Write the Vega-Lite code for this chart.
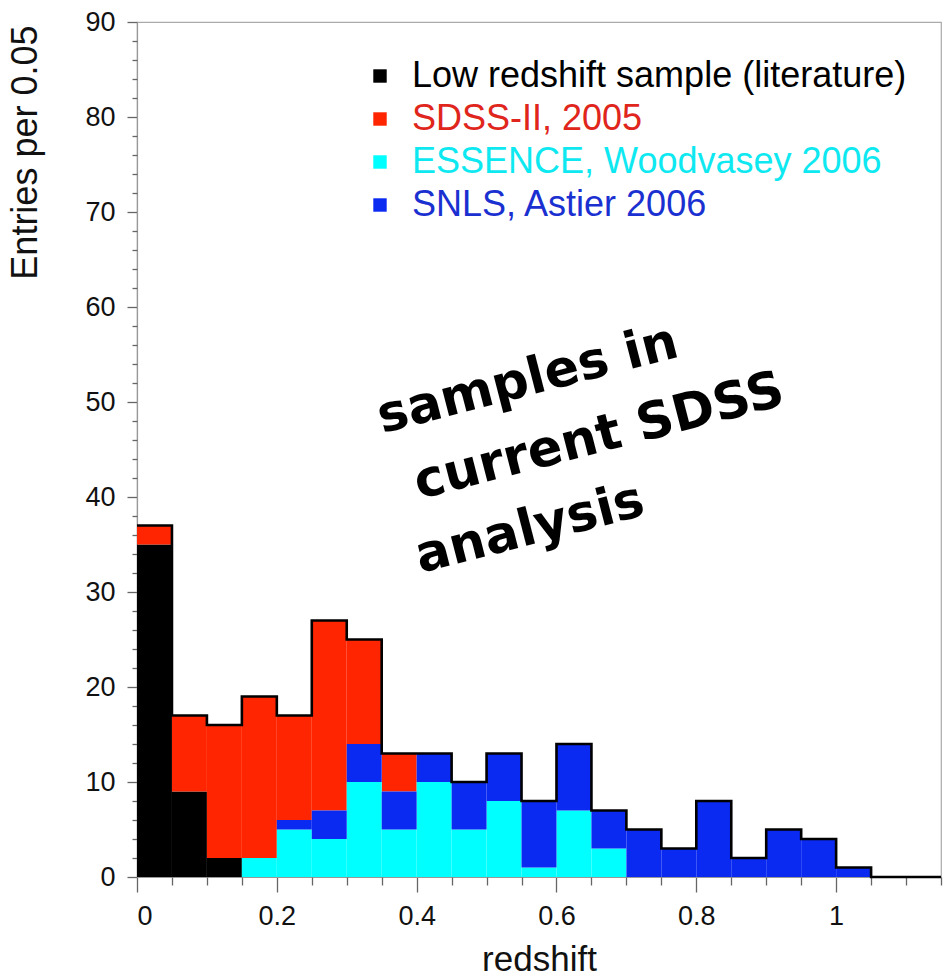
{
  "$schema": "https://vega.github.io/schema/vega-lite/v6.json",
  "width": 804,
  "height": 855,
  "autosize": {"type": "none"},
  "padding": {"left": 137, "top": 22, "right": 8, "bottom": 100},
  "background": "white",
  "config": {
    "view": {"stroke": "#aaaaaa", "strokeWidth": 1.2},
    "axis": {
      "grid": false,
      "domainColor": "#999999",
      "domainWidth": 1.2,
      "tickColor": "#666666",
      "tickWidth": 1.3,
      "labelColor": "#111111",
      "labelFont": "Liberation Sans",
      "titleFont": "Liberation Sans",
      "titleColor": "#111111",
      "titleFontWeight": "normal"
    }
  },
  "datasets": {
    "bars": [
      {"sample": "Low redshift sample (literature)", "lo": 0.0, "hi": 0.05, "count": 35},
      {"sample": "Low redshift sample (literature)", "lo": 0.05, "hi": 0.1, "count": 9},
      {"sample": "Low redshift sample (literature)", "lo": 0.1, "hi": 0.15, "count": 2},
      {"sample": "SDSS-II, 2005", "lo": 0.0, "hi": 0.05, "count": 2},
      {"sample": "SDSS-II, 2005", "lo": 0.05, "hi": 0.1, "count": 8},
      {"sample": "SDSS-II, 2005", "lo": 0.1, "hi": 0.15, "count": 14},
      {"sample": "SDSS-II, 2005", "lo": 0.15, "hi": 0.2, "count": 17},
      {"sample": "SDSS-II, 2005", "lo": 0.2, "hi": 0.25, "count": 11},
      {"sample": "SDSS-II, 2005", "lo": 0.25, "hi": 0.3, "count": 20},
      {"sample": "SDSS-II, 2005", "lo": 0.3, "hi": 0.35, "count": 11},
      {"sample": "SDSS-II, 2005", "lo": 0.35, "hi": 0.4, "count": 4},
      {"sample": "ESSENCE, Woodvasey 2006", "lo": 0.15, "hi": 0.2, "count": 2},
      {"sample": "ESSENCE, Woodvasey 2006", "lo": 0.2, "hi": 0.25, "count": 5},
      {"sample": "ESSENCE, Woodvasey 2006", "lo": 0.25, "hi": 0.3, "count": 4},
      {"sample": "ESSENCE, Woodvasey 2006", "lo": 0.3, "hi": 0.35, "count": 10},
      {"sample": "ESSENCE, Woodvasey 2006", "lo": 0.35, "hi": 0.4, "count": 5},
      {"sample": "ESSENCE, Woodvasey 2006", "lo": 0.4, "hi": 0.45, "count": 10},
      {"sample": "ESSENCE, Woodvasey 2006", "lo": 0.45, "hi": 0.5, "count": 5},
      {"sample": "ESSENCE, Woodvasey 2006", "lo": 0.5, "hi": 0.55, "count": 8},
      {"sample": "ESSENCE, Woodvasey 2006", "lo": 0.55, "hi": 0.6, "count": 1},
      {"sample": "ESSENCE, Woodvasey 2006", "lo": 0.6, "hi": 0.65, "count": 7},
      {"sample": "ESSENCE, Woodvasey 2006", "lo": 0.65, "hi": 0.7, "count": 3},
      {"sample": "SNLS, Astier 2006", "lo": 0.2, "hi": 0.25, "count": 1},
      {"sample": "SNLS, Astier 2006", "lo": 0.25, "hi": 0.3, "count": 3},
      {"sample": "SNLS, Astier 2006", "lo": 0.3, "hi": 0.35, "count": 4},
      {"sample": "SNLS, Astier 2006", "lo": 0.35, "hi": 0.4, "count": 4},
      {"sample": "SNLS, Astier 2006", "lo": 0.4, "hi": 0.45, "count": 3},
      {"sample": "SNLS, Astier 2006", "lo": 0.45, "hi": 0.5, "count": 5},
      {"sample": "SNLS, Astier 2006", "lo": 0.5, "hi": 0.55, "count": 5},
      {"sample": "SNLS, Astier 2006", "lo": 0.55, "hi": 0.6, "count": 7},
      {"sample": "SNLS, Astier 2006", "lo": 0.6, "hi": 0.65, "count": 7},
      {"sample": "SNLS, Astier 2006", "lo": 0.65, "hi": 0.7, "count": 4},
      {"sample": "SNLS, Astier 2006", "lo": 0.7, "hi": 0.75, "count": 5},
      {"sample": "SNLS, Astier 2006", "lo": 0.75, "hi": 0.8, "count": 3},
      {"sample": "SNLS, Astier 2006", "lo": 0.8, "hi": 0.85, "count": 8},
      {"sample": "SNLS, Astier 2006", "lo": 0.85, "hi": 0.9, "count": 2},
      {"sample": "SNLS, Astier 2006", "lo": 0.9, "hi": 0.95, "count": 5},
      {"sample": "SNLS, Astier 2006", "lo": 0.95, "hi": 1.0, "count": 4},
      {"sample": "SNLS, Astier 2006", "lo": 1.0, "hi": 1.05, "count": 1}
    ],
    "envelope": [
      {"z": 0.0, "total": 37},
      {"z": 0.05, "total": 17},
      {"z": 0.1, "total": 16},
      {"z": 0.15, "total": 19},
      {"z": 0.2, "total": 17},
      {"z": 0.25, "total": 27},
      {"z": 0.3, "total": 25},
      {"z": 0.35, "total": 13},
      {"z": 0.4, "total": 13},
      {"z": 0.45, "total": 10},
      {"z": 0.5, "total": 13},
      {"z": 0.55, "total": 8},
      {"z": 0.6, "total": 14},
      {"z": 0.65, "total": 7},
      {"z": 0.7, "total": 5},
      {"z": 0.75, "total": 3},
      {"z": 0.8, "total": 8},
      {"z": 0.85, "total": 2},
      {"z": 0.9, "total": 5},
      {"z": 0.95, "total": 4},
      {"z": 1.0, "total": 1},
      {"z": 1.05, "total": 0},
      {"z": 1.15, "total": 0}
    ]
  },
  "layer": [
    {
      "data": {"name": "bars"},
      "transform": [
        {"calculate": "indexof(['Low redshift sample (literature)', 'ESSENCE, Woodvasey 2006', 'SNLS, Astier 2006', 'SDSS-II, 2005'], datum.sample)", "as": "stack_rank"},
        {"stack": "count", "groupby": ["lo"], "sort": [{"field": "stack_rank", "order": "ascending"}], "as": ["c0", "c1"]}
      ],
      "mark": {"type": "rect", "strokeWidth": 0},
      "encoding": {
        "x": {
          "field": "lo", "type": "quantitative",
          "scale": {"domain": [0, 1.15], "nice": false, "zero": false},
          "axis": {
            "orient": "bottom",
            "values": [0, 0.2, 0.4, 0.6, 0.8, 1],
            "format": "~g",
            "tickSize": 15,
            "labelFontSize": 27,
            "labelPadding": 11,
            "title": "redshift",
            "titleFontSize": 35,
            "titleX": 402,
            "titleY": 93,
            "titleAlign": "center",
            "titleBaseline": "alphabetic"
          }
        },
        "x2": {"field": "hi"},
        "y": {
          "field": "c0", "type": "quantitative",
          "scale": {"domain": [0, 90], "nice": false},
          "axis": {
            "orient": "left",
            "values": [0, 10, 20, 30, 40, 50, 60, 70, 80, 90],
            "tickSize": 10,
            "labelFontSize": 27,
            "labelPadding": 12,
            "title": "Entries per 0.05",
            "titleFontSize": 36,
            "titleAngle": -90,
            "titleX": -101,
            "titleY": 3,
            "titleAlign": "right",
            "titleBaseline": "alphabetic"
          }
        },
        "y2": {"field": "c1"},
        "color": {
          "field": "sample", "type": "nominal",
          "scale": {
            "domain": ["Low redshift sample (literature)", "SDSS-II, 2005", "ESSENCE, Woodvasey 2006", "SNLS, Astier 2006"],
            "range": ["#000000", "#ff2500", "#00ffff", "#0a2af2"]
          },
          "legend": {
            "orient": "none",
            "legendX": 225,
            "legendY": 36,
            "title": null,
            "padding": 0,
            "symbolType": "square",
            "symbolSize": 180,
            "symbolStrokeWidth": 0,
            "labelFontSize": 36,
            "labelFont": "Liberation Sans",
            "labelOffset": 14,
            "labelLimit": 700,
            "rowPadding": 7,
            "encode": {
              "symbols": {
                "update": {
                  "shape": {"value": "square"},
                  "size": {"value": 180},
                  "strokeWidth": {"value": 0}
                }
              },
              "labels": {
                "update": {
                  "fill": {"signal": "datum.value === 'SDSS-II, 2005' ? '#e0261c' : datum.value === 'ESSENCE, Woodvasey 2006' ? '#0ee8f0' : datum.value === 'SNLS, Astier 2006' ? '#1a30d0' : '#000000'"}
                }
              }
            }
          }
        }
      }
    },
    {
      "data": {"name": "envelope"},
      "mark": {"type": "line", "interpolate": "step-after", "color": "#000000", "strokeWidth": 2.6},
      "encoding": {
        "x": {
          "field": "z", "type": "quantitative",
          "axis": {
            "orient": "bottom",
            "values": [0.05, 0.1, 0.15, 0.25, 0.3, 0.35, 0.45, 0.5, 0.55, 0.65, 0.7, 0.75, 0.85, 0.9, 0.95, 1.05, 1.1, 1.15],
            "tickSize": 8,
            "labels": false,
            "domain": false,
            "title": null
          }
        },
        "y": {
          "field": "total", "type": "quantitative",
          "axis": {
            "orient": "left",
            "values": [2, 4, 6, 8, 12, 14, 16, 18, 22, 24, 26, 28, 32, 34, 36, 38, 42, 44, 46, 48, 52, 54, 56, 58, 62, 64, 66, 68, 72, 74, 76, 78, 82, 84, 86, 88],
            "tickSize": 5,
            "labels": false,
            "domain": false,
            "title": null
          }
        }
      }
    },
    {
      "data": {"values": [{}]},
      "mark": {"type": "text", "text": "samples in", "font": "DejaVu Sans", "fontWeight": "bold", "fontSize": 51, "angle": -14.5, "align": "center", "baseline": "middle", "color": "#000000"},
      "encoding": {
        "x": {"datum": 0.559, "type": "quantitative", "axis": null},
        "y": {"datum": 52.3, "type": "quantitative", "axis": null}
      }
    },
    {
      "data": {"values": [{}]},
      "mark": {"type": "text", "text": "current SDSS", "font": "DejaVu Sans", "fontWeight": "bold", "fontSize": 51, "angle": -14.5, "align": "center", "baseline": "middle", "color": "#000000"},
      "encoding": {
        "x": {"datum": 0.661, "type": "quantitative", "axis": null},
        "y": {"datum": 46.3, "type": "quantitative", "axis": null}
      }
    },
    {
      "data": {"values": [{}]},
      "mark": {"type": "text", "text": "analysis", "font": "DejaVu Sans", "fontWeight": "bold", "fontSize": 51, "angle": -14.5, "align": "center", "baseline": "middle", "color": "#000000"},
      "encoding": {
        "x": {"datum": 0.562, "type": "quantitative", "axis": null},
        "y": {"datum": 36.6, "type": "quantitative", "axis": null}
      }
    }
  ],
  "resolve": {"axis": {"x": "independent", "y": "independent"}}
}
